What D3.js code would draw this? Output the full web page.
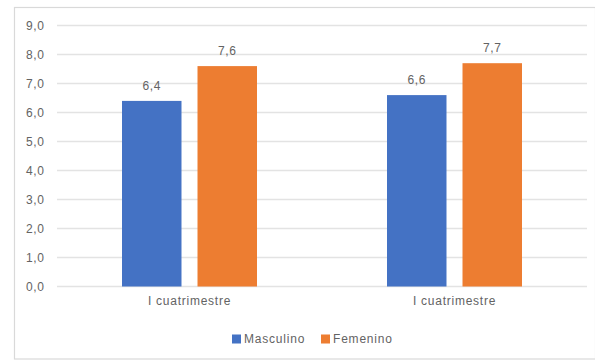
<!DOCTYPE html>
<html>
<head>
<meta charset="utf-8">
<script src="https://cdn.jsdelivr.net/npm/d3@7"></script>
<style>
  html, body { margin: 0; padding: 0; background: #fff; }
  svg { display: block; }
  text { font-family: "Liberation Sans", Arial, sans-serif; fill: #636363; }
</style>
</head>
<body>
<svg id="chart" width="595" height="360"></svg>
<script>
// Average grade by sex, per term
const categories = ["I cuatrimestre", "I cuatrimestre"];
const seriesNames = ["Masculino", "Femenino"];
const masculino = [6.4, 6.6];
const femenino = [7.6, 7.7];
const yTicks = [0, 1, 2, 3, 4, 5, 6, 7, 8, 9];
const colors = ["#4472c4", "#ed7d31"];

const seriesValues = [masculino, femenino];
const fmt = v => d3.format(".1f")(v).replace(".", ",");

const svg = d3.select("#chart");
const W = 595, H = 360;
const textColor = "#636363";

// outer chart frame
svg.append("rect")
  .attr("x", 14.5).attr("y", 7.5)
  .attr("width", W - 14).attr("height", H - 8.5)
  .attr("fill", "#fff").attr("stroke", "#d9d9d9").attr("stroke-width", 1.2);

const plot = { left: 57, right: 587, top: 25.5, bottom: 286.5 };

const y = d3.scaleLinear().domain([0, 9]).range([plot.bottom, plot.top]);
const x0 = d3.scaleBand().domain(d3.range(categories.length))
  .range([plot.left, plot.right]).padding(0);
const x1 = d3.scaleBand().domain(d3.range(seriesNames.length))
  .range([65, 200]).paddingInner(0.212);

// gridlines
svg.append("g").selectAll("line").data(yTicks).join("line")
  .attr("x1", plot.left).attr("x2", plot.right)
  .attr("y1", d => y(d)).attr("y2", d => y(d))
  .attr("stroke", "#e3e3e3").attr("stroke-width", 1.5);

// y axis labels
const yAxis = d3.axisLeft(y).tickValues(yTicks).tickFormat(fmt).tickSize(0).tickPadding(0);
svg.append("g").attr("transform", `translate(44.5,0)`).call(yAxis)
  .call(g => g.select(".domain").remove())
  .selectAll("text").style("font-size", "12px").attr("fill", textColor)
  .style("letter-spacing", "0.6px")
  .attr("font-family", "Liberation Sans, Arial, sans-serif");

// x axis labels
const xAxis = d3.axisBottom(x0).tickFormat(i => categories[i]).tickSize(0).tickPadding(0);
svg.append("g").attr("transform", `translate(0,${plot.bottom + 10})`).call(xAxis)
  .call(g => g.select(".domain").remove())
  .selectAll("text").style("font-size", "12px").attr("fill", textColor)
  .style("letter-spacing", "0.75px")
  .attr("font-family", "Liberation Sans, Arial, sans-serif");

// bars
const groups = svg.append("g").selectAll("g").data(d3.range(categories.length)).join("g")
  .attr("transform", i => `translate(${x0(i)},0)`);

groups.selectAll("rect")
  .data(i => seriesValues.map((vals, s) => ({ s, v: vals[i] })))
  .join("rect")
  .attr("x", d => x1(d.s))
  .attr("width", x1.bandwidth())
  .attr("y", d => y(d.v))
  .attr("height", d => y(0) - y(d.v))
  .attr("fill", d => colors[d.s]);

groups.selectAll("text.val")
  .data(i => seriesValues.map((vals, s) => ({ s, v: vals[i] })))
  .join("text")
  .attr("class", "val")
  .attr("x", d => x1(d.s) + x1.bandwidth() / 2)
  .attr("y", d => y(d.v) - 11)
  .attr("text-anchor", "middle")
  .style("font-size", "12px")
  .style("letter-spacing", "0.6px")
  .text(d => fmt(d.v));

// legend
const legend = svg.append("g").attr("transform", "translate(232,339)");
const legX = [0, 89];
seriesNames.forEach((name, s) => {
  const g = legend.append("g").attr("transform", `translate(${legX[s]},0)`);
  g.append("rect").attr("x", 0).attr("y", -4.5).attr("width", 9).attr("height", 9)
    .attr("fill", colors[s]);
  g.append("text").attr("x", 12).attr("y", 4.3).style("font-size", "12px")
    .style("letter-spacing", "0.8px").text(name);
});
</script>
</body>
</html>
